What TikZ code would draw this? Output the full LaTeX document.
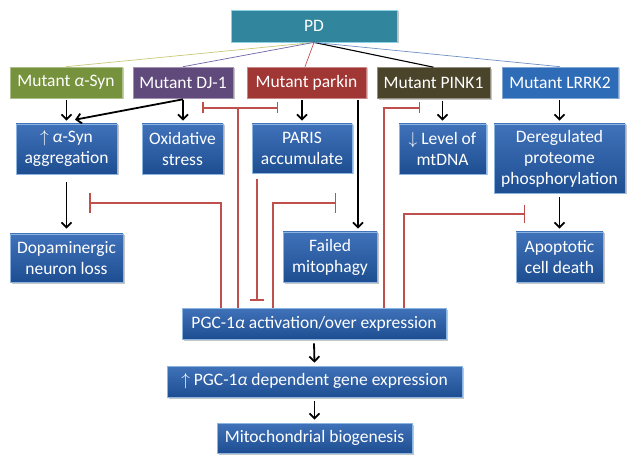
\documentclass[tikz,border=0pt]{standalone}
\usepackage{fontspec}
\setmainfont{Carlito}
\usetikzlibrary{arrows.meta,shadows,calc}
\definecolor{inhred}{RGB}{192,80,77}
\definecolor{bluetop}{RGB}{64,114,186}
\definecolor{bluebot}{RGB}{30,78,145}
\definecolor{blueedge}{RGB}{140,180,225}
\definecolor{pdteal}{RGB}{49,133,156}
\definecolor{pdedge}{RGB}{140,210,230}
\definecolor{syngreen}{RGB}{118,146,60}
\definecolor{djpurple}{RGB}{96,74,123}
\definecolor{parkred}{RGB}{160,55,53}
\definecolor{pinkbrown}{RGB}{74,68,42}
\definecolor{lrrkblue}{RGB}{47,108,184}
\definecolor{lnsyn}{RGB}{200,200,120}
\definecolor{lndj}{RGB}{110,100,170}
\definecolor{lnlrrk}{RGB}{110,145,195}
\begin{document}
\begin{tikzpicture}[x=1pt,y=-1pt,
  base/.style={rectangle, inner sep=2pt, text=white, align=center,
    font=\fontsize{17.5}{21}\selectfont,
    drop shadow={shadow xshift=1.5pt,shadow yshift=-1.5pt,opacity=0.45}},
  bluebox/.style={base, top color=bluetop, bottom color=bluebot, draw=blueedge, line width=0.6pt},
  topbox/.style={base, fill=#1, draw=#1!60!white, line width=0.6pt},
  arr/.style={draw=black, line width=1.8pt, -{Straight Barb[length=5pt,width=10pt]}},
  inh/.style={draw=inhred, line width=1.5pt},
  pdline/.style={line width=0.7pt}
]
\useasboundingbox (0,0) rectangle (634,462);

% top
\node[base, fill=pdteal, draw=pdedge, line width=0.8pt, minimum width=166pt, minimum height=32pt] (pd) at (314,26) {PD};

\node[topbox=syngreen, minimum width=112pt, minimum height=31pt] (asyn) at (66,82.5) {Mutant \textit{α}-Syn};
\node[topbox=djpurple, minimum width=100pt, minimum height=31pt] (dj1) at (183,82.5) {Mutant DJ-1};
\node[topbox=parkred, minimum width=119pt, minimum height=31pt] (parkin) at (306.5,82.5) {Mutant parkin};
\node[topbox=pinkbrown, minimum width=113pt, minimum height=31pt] (pink1) at (433.5,83) {Mutant PINK1};
\node[topbox=lrrkblue, minimum width=116pt, minimum height=31pt] (lrrk2) at (560,82.5) {Mutant LRRK2};

% second row
\node[bluebox, minimum width=101pt, minimum height=50pt] (agg) at (66.5,149) {$\uparrow$ \textit{α}-Syn\\aggregation};
\node[bluebox, minimum width=81pt, minimum height=50pt] (oxi) at (182.5,149) {Oxidative\\stress};
\node[bluebox, minimum width=100pt, minimum height=49pt] (paris) at (302,148.5) {PARIS\\accumulate};
\node[bluebox, minimum width=87pt, minimum height=50pt] (mtdna) at (442.5,149) {$\downarrow$ Level of\\mtDNA};
\node[bluebox, minimum width=131pt, minimum height=69pt] (dereg) at (559.5,158.5) {Deregulated\\proteome\\phosphorylation};

% third row
\node[bluebox, minimum width=113pt, minimum height=48pt] (dopa) at (66.5,258) {Dopaminergic\\neuron loss};
\node[bluebox, minimum width=94pt, minimum height=50pt] (failed) at (330,257) {Failed\\mitophagy};
\node[bluebox, minimum width=87pt, minimum height=50pt] (apop) at (559.5,257) {Apoptotic\\cell death};

% bottom
\node[bluebox, minimum width=264pt, minimum height=31pt] (pgc) at (314,323.5) {PGC-1\textit{α} activation/over expression};
\node[bluebox, minimum width=295pt, minimum height=31pt] (gene) at (314.5,381.5) {$\uparrow$ PGC-1\textit{α} dependent gene expression};
\node[bluebox, minimum width=195pt, minimum height=30pt] (mito) at (314.5,438) {Mitochondrial biogenesis};

% PD lines
\draw[pdline, draw=lnsyn] (pd.south) -- (asyn.north);
\draw[pdline, draw=lndj] (pd.south) -- (dj1.north);
\draw[pdline, draw=inhred] (pd.south) -- ([xshift=-1.5pt]parkin.north);
\draw[pdline, draw=black, line width=1.1pt] (pd.south) -- (pink1.north);
\draw[pdline, draw=lnlrrk] (pd.south) -- (lrrk2.north);

% black arrows
\draw[arr] ([yshift=-2pt]agg.north |- asyn.south) -- ([yshift=3pt]agg.north);
\draw[arr] ([yshift=-2pt]dj1.south) -- ([yshift=3pt]dj1.south |- oxi.north);
\draw[arr] ([yshift=-1pt]dj1.south) -- ([xshift=8.5pt,yshift=4pt]agg.north);
\draw[arr] ([yshift=-2pt]paris.north |- parkin.south) -- ([yshift=3pt]paris.north);
\draw[arr] ([xshift=51.5pt,yshift=-2pt]parkin.south) -- ([xshift=28pt,yshift=3pt]failed.north);
\draw[arr] ([yshift=-2pt]mtdna.north |- pink1.south) -- ([yshift=3pt]mtdna.north);
\draw[arr] ([yshift=-2pt]dereg.north |- lrrk2.south) -- ([yshift=3pt]dereg.north);
\draw[arr] ([yshift=-8pt]agg.south) -- ([yshift=5pt]dopa.north);
\draw[arr] ([yshift=-4pt]dereg.south) -- ([yshift=3pt]apop.north);
\draw[arr] ([yshift=-4pt]pgc.south) -- ([yshift=3pt]gene.north);
\draw[arr] ([yshift=-4pt]gene.south) -- ([yshift=3pt]mito.north);

% inhibition lines
\coordinate (t1) at (238,108);
\coordinate (t1l) at (202,108);
\coordinate (t1r) at (278,108);
\draw[inh] ([xshift=-76pt]pgc.north) -- (t1);
\draw[inh, {Bar[width=11pt]}-{Bar[width=11pt]}] (t1l) -- (t1r);

\coordinate (b1) at (89,203);
\draw[inh, -{Bar[width=20pt]}] ([xshift=-93pt]pgc.north) |- (b1);

\draw[inh, -{Bar[width=14pt]}] ([xshift=-45pt,yshift=-6pt]paris.south) -- ([xshift=-57pt,yshift=7pt]pgc.north);

\coordinate (b2) at (336,203);
\draw[inh, -{Bar[width=20pt]}] ([xshift=-41pt]pgc.north) |- (b2);

\coordinate (b3) at (420,108);
\draw[inh, -{Bar[width=11pt]}] ([xshift=70pt]pgc.north) |- (b3);

\coordinate (b4) at (525,214);
\draw[inh, -{Bar[width=18pt]}] ([xshift=90pt]pgc.north) |- (b4);
\end{tikzpicture}
\end{document}
